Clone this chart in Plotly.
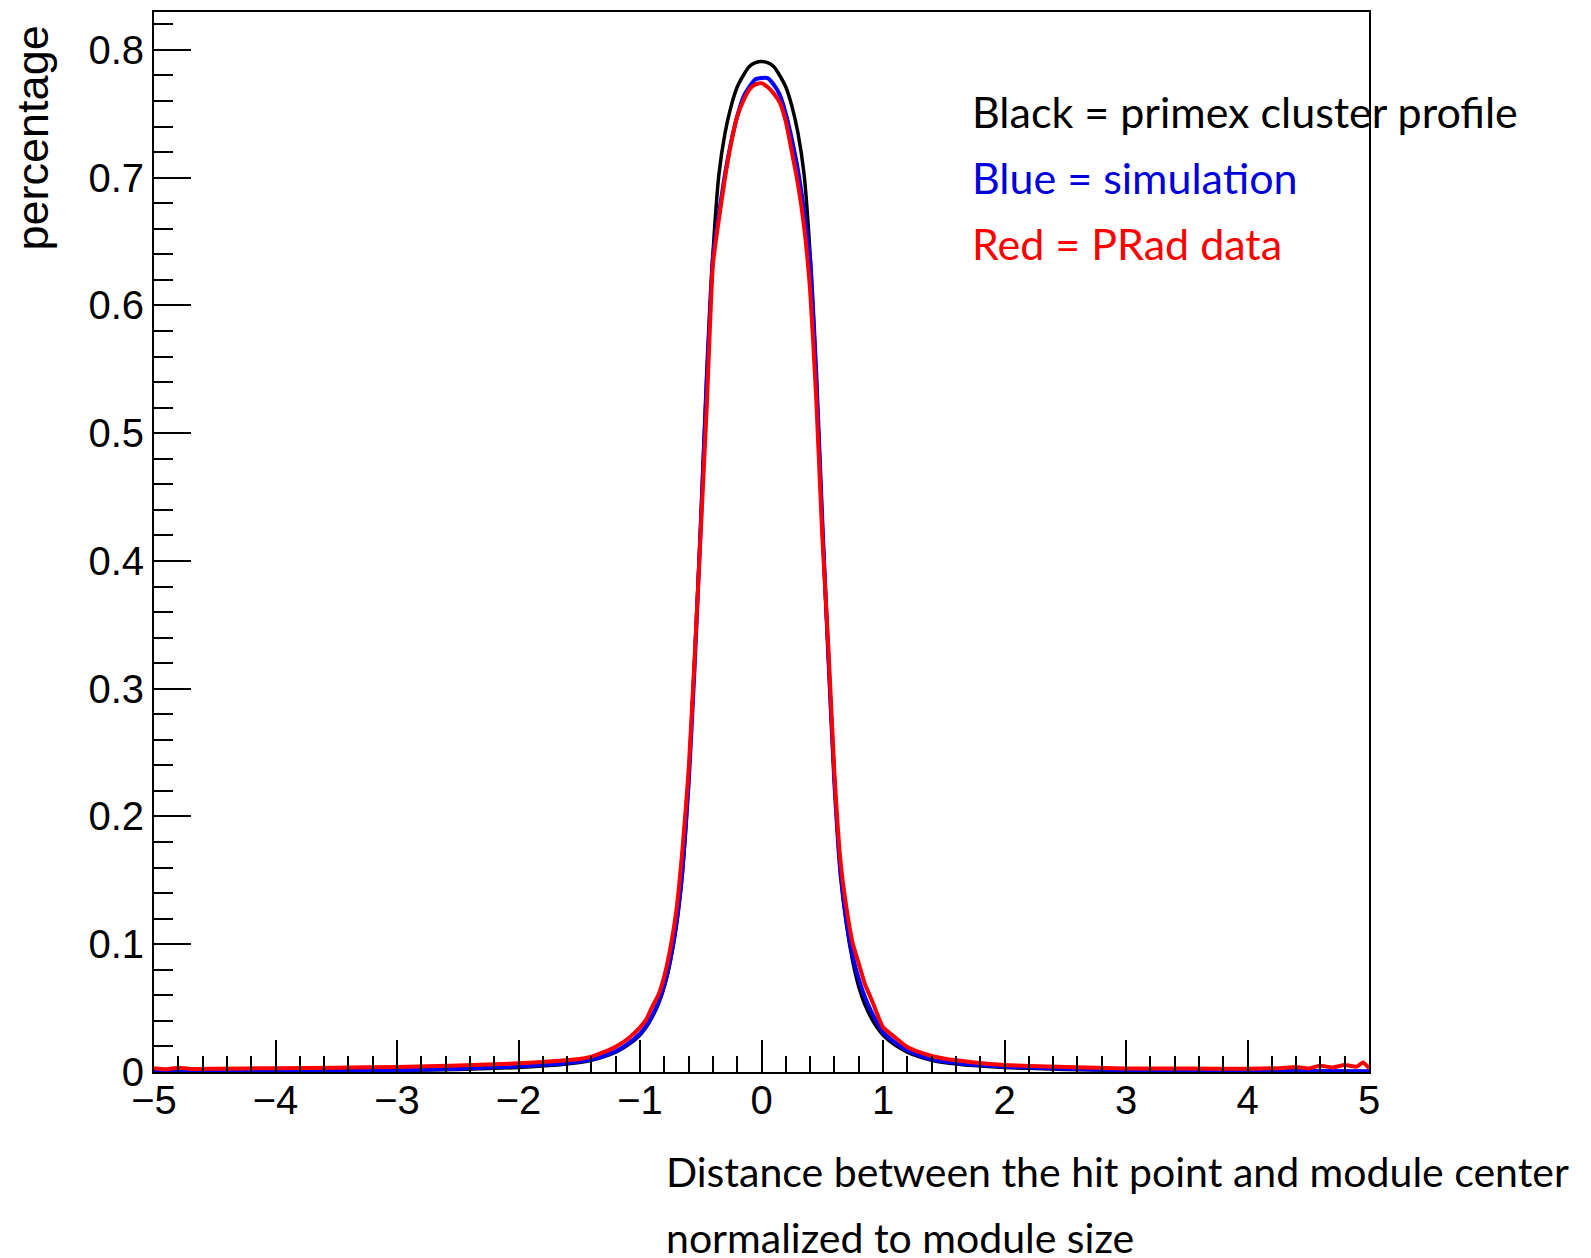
import plotly.graph_objects as go

# ---------------- data ----------------
x_grid = [-5.0, -4.5, -4.0, -3.5, -3.0, -2.5, -2.0, -1.75, -1.5, -1.4, -1.3, -1.2, -1.1,
          -1.0, -0.95, -0.9, -0.85, -0.8, -0.75, -0.7, -0.65, -0.6, -0.55, -0.5, -0.45,
          -0.4, -0.35, -0.3, -0.25, -0.2, -0.15, -0.1, -0.05, 0.0,
          0.05, 0.1, 0.15, 0.2, 0.25, 0.3, 0.35, 0.4, 0.45, 0.5, 0.55, 0.6, 0.65, 0.7,
          0.75, 0.8, 0.85, 0.9, 0.95, 1.0, 1.1, 1.2, 1.3, 1.4, 1.5, 1.75, 2.0, 2.5, 3.0,
          3.5, 4.0, 4.5, 5.0]

black_primex = [0.0003, 0.0004, 0.0006, 0.0009, 0.0013, 0.0020, 0.0035, 0.0050, 0.0075, 0.0092,
                0.0118, 0.0155, 0.0210, 0.0290, 0.0350, 0.0430, 0.0530, 0.0670, 0.0870, 0.1150,
                0.1570, 0.2280, 0.3250, 0.4300, 0.5450, 0.6400, 0.7030, 0.7350, 0.7560, 0.7710,
                0.7800, 0.7870, 0.7900, 0.7910,
                0.7900, 0.7870, 0.7800, 0.7710, 0.7560, 0.7350, 0.7030, 0.6400, 0.5450, 0.4300,
                0.3250, 0.2280, 0.1570, 0.1150, 0.0870, 0.0670, 0.0530, 0.0430, 0.0350, 0.0290,
                0.0210, 0.0155, 0.0118, 0.0092, 0.0075, 0.0050, 0.0035, 0.0020, 0.0013, 0.0009,
                0.0006, 0.0004, 0.0003]

blue_simulation = [0.0005, 0.0006, 0.0008, 0.0011, 0.0015, 0.0025, 0.0045, 0.0058, 0.0082, 0.0098,
                   0.0125, 0.0162, 0.0220, 0.0300, 0.0360, 0.0440, 0.0540, 0.0680, 0.0880, 0.1160,
                   0.1580, 0.2250, 0.3180, 0.4280, 0.5450, 0.6380, 0.6720, 0.7030, 0.7280, 0.7480,
                   0.7630, 0.7710, 0.7770, 0.7780,
                   0.7780, 0.7730, 0.7650, 0.7500, 0.7300, 0.7060, 0.6740, 0.6360, 0.5480, 0.4320,
                   0.3250, 0.2260, 0.1550, 0.1170, 0.0910, 0.0730, 0.0590, 0.0480, 0.0390, 0.0310,
                   0.0230, 0.0168, 0.0128, 0.0100, 0.0082, 0.0056, 0.0042, 0.0025, 0.0015, 0.0011,
                   0.0009, 0.0007, 0.0006]

red_x = [-5.0, -4.9, -4.8, -4.7, -4.5, -4.0, -3.5, -3.0, -2.5, -2.0, -1.75, -1.5, -1.4, -1.3,
         -1.2, -1.1, -1.0, -0.95, -0.9, -0.85, -0.8, -0.75, -0.7, -0.65, -0.6, -0.55, -0.5,
         -0.45, -0.4, -0.35, -0.3, -0.25, -0.2, -0.15, -0.1, -0.05, 0.0,
         0.05, 0.1, 0.15, 0.2, 0.25, 0.3, 0.35, 0.4, 0.45, 0.5, 0.55, 0.6, 0.65, 0.7,
         0.75, 0.8, 0.85, 0.9, 0.95, 1.0, 1.1, 1.2, 1.3, 1.4, 1.5, 1.75, 2.0, 2.5, 3.0,
         3.5, 4.0, 4.25, 4.4, 4.5, 4.6, 4.7, 4.8, 4.9, 4.95, 5.0]

red_prad = [0.0030, 0.0022, 0.0034, 0.0024, 0.0026, 0.0030, 0.0034, 0.0040, 0.0050, 0.0068,
            0.0082, 0.0102, 0.0120, 0.0155, 0.0198, 0.0260, 0.0350, 0.0410, 0.0510, 0.0600,
            0.0750, 0.0970, 0.1270, 0.1750, 0.2360, 0.3250, 0.4230, 0.5220, 0.6320, 0.6680,
            0.7000, 0.7270, 0.7480, 0.7600, 0.7690, 0.7730, 0.7740,
            0.7710, 0.7660, 0.7590, 0.7440, 0.7200, 0.6950, 0.6620, 0.6120, 0.5280, 0.4200,
            0.3330, 0.2340, 0.1650, 0.1280, 0.1010, 0.0850, 0.0690, 0.0580, 0.0460, 0.0350,
            0.0270, 0.0195, 0.0155, 0.0125, 0.0105, 0.0075, 0.0055, 0.0040, 0.0028, 0.0027,
            0.0026, 0.0030, 0.0040, 0.0028, 0.0048, 0.0036, 0.0055, 0.0042, 0.0075, 0.0030]

ytick_vals = [0, 0.1, 0.2, 0.3, 0.4, 0.5, 0.6, 0.7, 0.8]
ytick_text = ["0", "0.1", "0.2", "0.3", "0.4", "0.5", "0.6", "0.7", "0.8"]
xtick_vals = [-5, -4, -3, -2, -1, 0, 1, 2, 3, 4, 5]
xtick_text = ["\u22125", "\u22124", "\u22123", "\u22122", "\u22121", "0", "1", "2", "3", "4", "5"]

legend_lines = ["Black = primex cluster profile", "Blue = simulation", "Red = PRad data"]
legend_colors = ["#000000", "#0000dd", "#ff0000"]
x_title_lines = ["Distance between the hit point and module center", "normalized to module size"]
y_title = "percentage"

# ---------------- layout geometry (page has an 8px body margin) ----------------
W, H = 1583, 1250
L, R, T, B = 146, 222, 2, 186
PW, PH = W - L - R, H - T - B


def px(xp):
    return (xp - L) / PW


def py(yp):
    return (H - B - yp) / PH


fig = go.Figure()
series = [(x_grid, black_primex, "black", 3.5), (x_grid, blue_simulation, "#0000ff", 4),
          (red_x, red_prad, "#ff0000", 4)]
for xs, vals, col, w in series:
    fig.add_trace(go.Scatter(x=xs, y=vals, mode="lines",
                             line=dict(color=col, width=w, shape="spline", smoothing=0.5),
                             showlegend=False, hoverinfo="skip"))

tickfont = dict(family="Liberation Sans, Arial, sans-serif", size=40, color="black")
textfont = "Lato, Liberation Sans, sans-serif"

fig.update_layout(width=W, height=H, margin=dict(l=L, r=R, t=T, b=B, pad=0),
                  paper_bgcolor="white", plot_bgcolor="white", showlegend=False)

fig.update_xaxes(range=[-5, 5], showgrid=False, zeroline=False, showline=True,
                 linecolor="black", linewidth=2, mirror=True,
                 ticks="inside", ticklen=32, tickwidth=2, tickcolor="black",
                 tickmode="array", tickvals=xtick_vals, ticktext=xtick_text, tickfont=tickfont,
                 ticklabelstandoff=-8,
                 minor=dict(ticks="inside", ticklen=16, tickwidth=2, tickcolor="black",
                            tickmode="linear", tick0=0, dtick=0.2, showgrid=False))
fig.update_yaxes(range=[0, PH / 1280.0], showgrid=False, zeroline=False, showline=True,
                 linecolor="black", linewidth=2, mirror=True,
                 ticks="inside", ticklen=37, tickwidth=2, tickcolor="black",
                 tickmode="array", tickvals=ytick_vals, ticktext=ytick_text, tickfont=tickfont,
                 minor=dict(ticks="inside", ticklen=19, tickwidth=2, tickcolor="black",
                            tickmode="linear", tick0=0, dtick=0.02, showgrid=False))

annotations = []
for i, (txt, col) in enumerate(zip(legend_lines, legend_colors)):
    annotations.append(dict(text=txt, xref="paper", yref="paper", x=px(963), y=py(102 + 66 * i),
                            xanchor="left", yanchor="middle", showarrow=False, borderpad=0,
                            font=dict(family=textfont, size=43, color=col)))
for i, txt in enumerate(x_title_lines):
    annotations.append(dict(text=txt, xref="paper", yref="paper", x=px(657), y=py(1164 + 66 * i),
                            xanchor="left", yanchor="middle", showarrow=False, borderpad=0,
                            font=dict(family=textfont, size=41, color="black")))
annotations.append(dict(text=y_title, xref="paper", yref="paper", x=px(24), y=py(15),
                        xanchor="center", yanchor="top", textangle=-90, showarrow=False,
                        borderpad=0,
                        font=dict(family="Liberation Sans, Arial, sans-serif", size=45, color="black")))
fig.update_layout(annotations=annotations)

fig.write_html("out.html")
